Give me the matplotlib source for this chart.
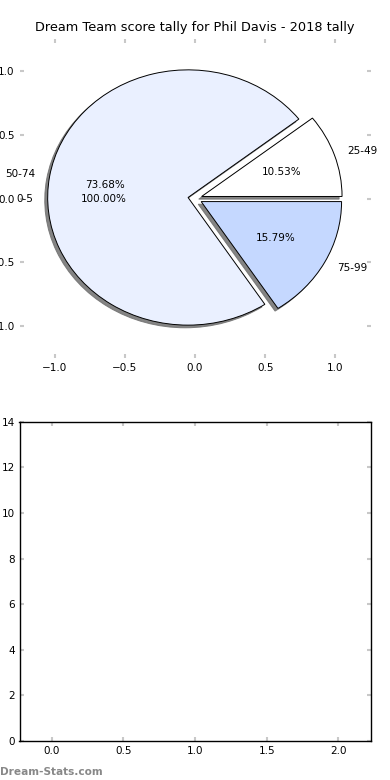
import matplotlib
matplotlib.use("Agg")
import matplotlib.pyplot as plt

# score bands and tallies
band_labels = ["25-49", "50-74", "75-99"]
band_counts = [2, 14, 3]
band_colors = ["#ffffff", "#eaf0ff", "#c5d8ff"]
band_explode = [0.05, 0.05, 0.05]

# the empty low band is drawn as its own pie (shows as 100%)
low_band_label = ["0-5"]
low_band_share = [1.0]

pie_ticks = [-1.0, -0.5, 0.0, 0.5, 1.0]
bar_xlim = (-0.225, 2.225)

title = "Dream Team score tally for Phil Davis - 2018 tally"
watermark = "Dream-Stats.com"

plt.rcParams["font.family"] = "DejaVu Sans"
plt.rcParams["font.size"] = 7.5

fig, (ax1, ax2) = plt.subplots(2, 1, figsize=(3.9, 7.8), dpi=100)
fig.subplots_adjust(left=0.05, right=0.95, top=0.95, bottom=0.05, hspace=0.2)

# pie
ax1.pie(band_counts, labels=band_labels, colors=band_colors, explode=band_explode,
        autopct="%1.2f%%", startangle=0,
        shadow={"ox": -0.015, "oy": -0.015, "facecolor": "#6f6f6f",
                "edgecolor": "#6f6f6f", "alpha": 0.85},
        wedgeprops={"edgecolor": "black", "linewidth": 0.7})
ax1.pie(low_band_share, labels=low_band_label, autopct="%1.2f%%", startangle=0,
        explode=[0.05], wedgeprops={"visible": False})
ax1.set_aspect("auto")
ax1.set_xlim(-1.25, 1.25)
ax1.set_ylim(-1.25, 1.25)
ax1.set_xticks(pie_ticks)
ax1.set_yticks(pie_ticks)
ax1.set_frame_on(False)
ax1.set_title(title, fontsize=9.3)

# empty tally axes below
ax2.set_xlim(*bar_xlim)
ax2.set_ylim(0, max(band_counts))
ax2.set_yticks(range(0, max(band_counts) + 1, 2))
for sp in ax2.spines.values():
    sp.set_color("black")
    sp.set_linewidth(1.0)

for ax in (ax1, ax2):
    ax.tick_params(direction="in", color="#c8c8c8", length=3, width=1.5,
                   top=True, right=True, labelsize=7.5)

fig.text(0.0, 0.006, watermark, color="#888888", fontsize=7.6, fontweight="bold")

plt.savefig("out.png", dpi=100)
plt.close()
